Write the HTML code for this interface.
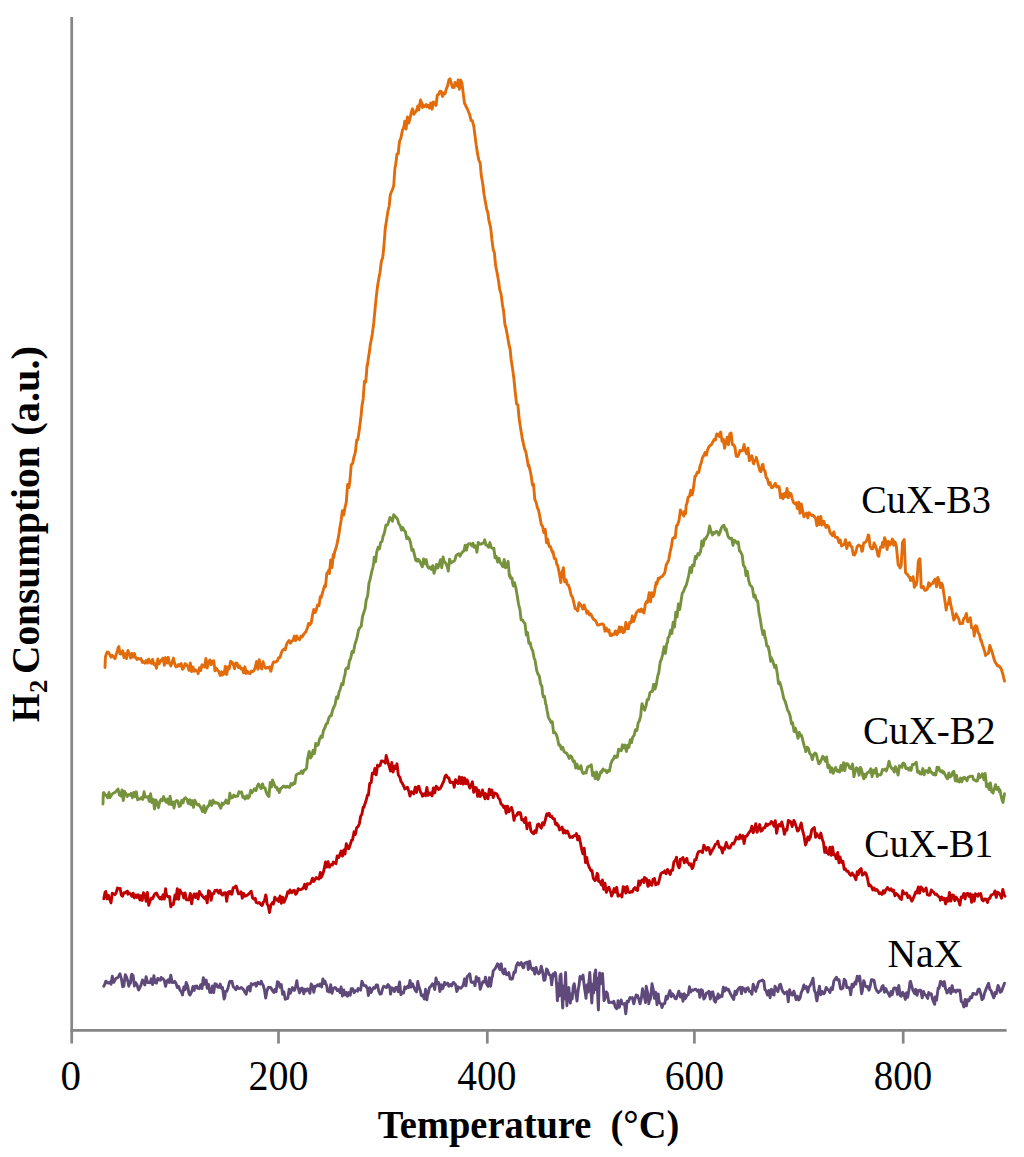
<!DOCTYPE html>
<html><head><meta charset="utf-8"><title>H2-TPR</title>
<style>
html,body{margin:0;padding:0;background:#fff;}
body{width:1024px;height:1157px;overflow:hidden;font-family:"Liberation Serif",serif;}
svg{display:block;}
text{font-family:"Liberation Serif",serif;fill:#000;}
</style></head><body>
<svg width="1024" height="1157" viewBox="0 0 1024 1157">
<rect width="1024" height="1157" fill="#fff"/>
<g stroke="#868686" stroke-width="2.7" fill="none">
<line x1="71.7" y1="17" x2="71.7" y2="1043.6"/>
<line x1="70.4" y1="1030.4" x2="1006.6" y2="1030.4"/>
<line x1="278.5" y1="1030.4" x2="278.5" y2="1043.6"/><line x1="487.3" y1="1030.4" x2="487.3" y2="1043.6"/><line x1="694.4" y1="1030.4" x2="694.4" y2="1043.6"/><line x1="903.2" y1="1030.4" x2="903.2" y2="1043.6"/>
</g>
<g font-size="42"><text x="70.7" y="1089.8" text-anchor="middle" textLength="20.5" lengthAdjust="spacingAndGlyphs">0</text><text x="278.5" y="1089.8" text-anchor="middle" textLength="60.0" lengthAdjust="spacingAndGlyphs">200</text><text x="486.8" y="1089.8" text-anchor="middle" textLength="59.0" lengthAdjust="spacingAndGlyphs">400</text><text x="694.4" y="1089.8" text-anchor="middle" textLength="59.5" lengthAdjust="spacingAndGlyphs">600</text><text x="903.0" y="1089.8" text-anchor="middle" textLength="58.3" lengthAdjust="spacingAndGlyphs">800</text></g>
<text x="377.75" y="1137.70" font-size="39.7" font-weight="bold" textLength="301.52" lengthAdjust="spacingAndGlyphs" style="white-space:pre">Temperature  (°C)</text>
<text transform="translate(38.80,722.18) rotate(-90)" font-size="40" font-weight="bold" textLength="28.58" lengthAdjust="spacingAndGlyphs" style="white-space:pre">H</text>
<text transform="translate(47.20,693.12) rotate(-90)" font-size="26" font-weight="bold" textLength="13.32" lengthAdjust="spacingAndGlyphs" style="white-space:pre">2</text>
<text transform="translate(38.80,674.00) rotate(-90)" font-size="40" font-weight="bold" textLength="227.59" lengthAdjust="spacingAndGlyphs" style="white-space:pre">Consumption</text>
<text transform="translate(38.80,435.75) rotate(-90)" font-size="40" font-weight="bold" textLength="89.80" lengthAdjust="spacingAndGlyphs" style="white-space:pre">(a.u.)</text>
<text x="861.36" y="512.70" font-size="39.6" textLength="129.48" lengthAdjust="spacingAndGlyphs" style="white-space:pre">CuX-B3</text>
<text x="862.98" y="743.70" font-size="39.6" textLength="132.48" lengthAdjust="spacingAndGlyphs" style="white-space:pre">CuX-B2</text>
<text x="864.37" y="856.80" font-size="39.6" textLength="128.98" lengthAdjust="spacingAndGlyphs" style="white-space:pre">CuX-B1</text>
<text x="887.45" y="966.80" font-size="39.3" textLength="74.91" lengthAdjust="spacingAndGlyphs" style="white-space:pre">NaX</text>
<polyline points="103.8,986.2 104.5,984.9 105.8,981.1 106.2,981.2 107.1,982.8 108.4,983.0 110.0,982.0 111.0,984.2 112.3,976.2 113.6,982.4 115.0,980.0 116.2,978.1 117.5,977.9 118.8,976.0 120.0,973.8 121.4,978.8 122.7,986.7 123.8,986.2 125.3,974.8 126.2,976.2 127.9,981.2 128.8,986.2 129.2,984.4 130.5,983.0 131.2,976.2 131.8,974.2 133.1,975.6 134.4,986.0 135.0,982.5 135.7,982.7 137.0,984.6 138.3,989.4 138.8,990.0 139.6,988.1 140.9,985.3 142.5,980.0 143.5,981.5 144.8,985.0 146.1,976.6 147.5,982.5 148.7,982.3 150.0,982.8 151.2,978.8 152.6,984.6 153.9,975.8 155.0,982.5 156.5,983.1 157.8,978.5 159.1,979.5 160.4,980.3 161.2,977.5 161.7,978.8 163.0,978.6 164.3,980.5 165.6,986.4 166.2,983.8 166.9,981.1 168.2,979.8 169.5,982.5 170.0,978.8 170.8,975.1 172.1,982.5 173.4,982.6 174.7,981.2 176.2,983.8 177.3,987.6 178.6,986.2 179.9,990.1 181.2,991.6 182.5,995.0 183.8,986.9 185.1,989.8 186.2,982.5 187.7,986.1 189.0,993.7 190.0,995.0 191.6,991.9 192.9,986.6 194.2,990.4 195.0,986.2 195.5,988.2 196.8,986.1 198.1,988.3 199.4,988.7 200.0,987.5 200.7,984.7 202.0,988.6 203.3,977.7 204.6,984.3 206.2,980.0 207.2,988.3 208.5,984.3 209.8,992.4 211.2,992.5 212.4,986.0 213.7,992.5 215.0,983.8 216.3,984.2 217.6,987.1 218.9,987.4 220.2,984.1 221.5,988.4 222.5,987.5 224.1,999.0 225.0,996.2 225.4,991.5 226.7,991.4 228.0,988.2 229.3,982.5 230.0,981.2 230.6,982.1 231.9,981.2 233.2,986.7 234.5,987.9 235.8,989.7 236.2,988.8 237.1,986.3 238.4,988.6 239.7,988.4 241.2,987.5 242.3,988.3 243.6,989.7 245.0,992.5 246.2,994.2 247.5,987.4 248.8,986.6 250.1,991.1 251.2,983.8 252.7,984.7 254.0,983.8 255.3,983.3 256.2,986.2 257.9,982.2 259.2,983.6 260.5,984.1 261.2,981.2 261.8,983.1 263.1,985.0 264.4,989.6 265.7,998.1 266.2,995.0 267.0,990.7 268.3,987.5 270.0,987.5 270.9,987.6 272.2,990.3 273.8,992.5 274.8,989.5 276.1,991.7 277.4,981.7 278.8,982.5 280.0,987.3 281.3,984.6 282.6,994.2 283.9,991.7 285.2,999.2 286.2,998.8 287.8,998.4 289.1,989.3 290.4,993.3 291.7,989.8 292.5,987.5 293.0,988.4 294.3,990.4 295.6,986.9 296.9,980.6 297.5,986.2 298.2,988.0 299.5,992.9 300.8,988.8 302.1,988.0 303.8,993.8 304.7,989.1 306.0,991.0 307.5,988.8 308.6,990.2 309.9,993.3 311.2,984.0 312.5,986.1 313.8,992.3 315.0,986.2 316.4,986.2 317.7,984.7 319.0,985.9 320.0,984.0 321.6,986.9 322.9,979.0 324.2,983.5 325.0,981.2 325.5,982.8 326.8,986.3 327.5,991.2 328.1,990.5 329.4,992.0 330.7,984.8 332.0,993.4 333.3,988.5 335.0,987.5 335.9,988.0 337.2,990.6 338.5,989.6 340.0,992.5 341.1,987.0 342.4,996.0 343.8,990.0 345.0,994.9 346.3,992.4 347.5,996.2 348.9,992.5 350.2,995.2 351.2,988.8 352.8,988.8 354.1,992.7 355.4,990.6 356.7,990.5 357.5,991.2 358.0,988.4 359.3,989.2 360.6,990.2 361.9,981.2 363.0,983.8 364.5,985.9 365.8,985.8 367.5,988.8 368.4,995.5 369.7,987.6 371.2,992.5 372.3,989.7 373.6,987.6 374.9,988.2 376.2,985.0 377.5,985.0 378.8,991.4 380.1,994.1 381.2,993.8 382.7,988.3 383.8,986.2 385.3,986.9 386.6,987.6 387.9,984.5 389.2,986.0 390.0,988.8 390.5,994.1 391.8,987.8 393.1,988.6 394.4,991.6 395.0,990.0 395.7,987.4 397.0,987.5 398.3,991.8 398.8,986.2 399.6,981.9 400.9,994.7 402.5,992.5 403.5,993.1 404.8,986.8 406.1,988.6 407.5,986.2 408.7,987.4 410.0,980.4 411.3,987.1 412.5,983.8 413.9,987.2 415.0,990.0 416.5,991.9 417.8,981.5 418.8,986.2 420.4,991.0 421.2,995.0 421.7,995.8 423.0,995.0 424.3,999.1 425.6,989.2 426.9,999.9 427.5,995.0 428.2,993.8 429.5,987.5 430.8,986.4 432.5,983.8 433.4,984.2 434.7,989.5 436.0,978.0 437.5,983.8 438.6,982.5 439.9,991.6 441.2,984.6 442.5,988.8 443.8,986.0 444.5,982.5 445.1,984.5 446.4,984.1 447.7,983.1 448.8,986.2 450.3,984.6 451.6,986.0 452.9,982.8 453.8,982.5 454.2,983.4 455.5,984.4 456.8,991.5 457.5,990.0 458.1,986.8 459.4,987.8 460.7,988.2 462.0,986.7 462.5,986.2 463.3,984.7 464.6,978.8 465.9,985.9 467.2,976.5 468.8,975.0 469.8,973.8 471.1,982.1 472.5,982.5 473.7,981.9 475.0,985.7 476.3,976.8 477.5,981.2 478.9,978.3 480.2,989.4 481.2,986.2 482.8,981.7 484.1,982.1 485.0,980.0 485.4,977.1 486.7,984.0 488.0,986.4 488.8,985.0 489.3,977.8 490.6,986.4 491.9,977.6 492.5,976.2 493.2,970.9 494.5,969.4 495.8,967.7 497.5,963.8 498.4,964.6 499.7,969.5 501.2,963.8 502.3,971.9 503.8,973.8 504.9,969.0 506.2,974.4 507.5,974.8 508.8,972.5 510.1,978.8 511.4,979.2 512.5,978.8 514.0,972.0 515.3,972.2 516.2,966.2 517.9,962.7 519.2,965.1 520.5,963.5 521.2,962.5 521.8,964.6 523.1,967.8 523.8,967.5 524.4,963.4 525.7,963.0 527.0,962.1 527.5,962.5 528.3,969.5 529.6,961.2 530.9,967.6 532.5,970.0 533.5,968.3 534.8,974.1 536.1,967.5 537.4,971.8 538.8,973.8 540.0,972.3 541.2,966.2 542.6,971.4 543.9,980.2 545.0,980.0 546.5,968.9 547.5,970.0 549.1,974.8 550.4,975.1 551.2,980.0 551.7,984.8 553.0,974.0 554.3,975.4 555.0,972.5 555.6,973.4 556.6,985.0 557.4,1000.8 558.3,984.0 559.2,996.0 560.0,976.0 561.0,974.0 561.8,993.0 562.7,1008.0 563.6,986.0 564.4,999.0 565.6,972.5 566.2,990.0 566.9,1005.7 567.3,998.6 567.8,990.0 568.8,987.6 569.5,997.0 570.3,1003.0 571.3,994.0 572.2,999.0 573.2,987.0 574.2,983.7 575.5,992.0 576.4,997.6 577.0,1001.0 577.7,994.1 578.5,988.0 579.0,985.6 580.0,976.4 581.5,979.0 583.0,975.0 584.5,988.0 585.5,994.4 586.0,998.3 587.0,985.0 588.0,992.0 589.8,972.5 590.8,989.0 591.8,1003.0 592.8,984.0 593.6,993.0 594.5,975.0 595.7,970.0 596.4,990.0 597.0,978.0 597.7,996.0 598.4,1010.0 599.0,988.0 599.6,973.0 600.3,984.0 601.0,975.0 601.8,983.0 602.5,973.4 603.3,986.0 604.0,1000.8 605.0,998.4 605.5,996.0 606.3,991.8 607.4,993.5 608.8,1002.5 610.2,1002.3 611.5,1002.2 612.8,1002.9 613.8,1001.2 615.4,1007.3 616.7,1008.7 617.5,1007.5 618.0,1000.6 619.3,1007.4 620.6,1002.4 621.2,1000.0 621.9,1003.7 623.2,1004.1 624.5,1003.5 625.8,1013.7 626.2,1010.0 627.1,1001.3 628.4,1001.8 630.0,997.5 631.0,998.1 632.3,997.6 633.8,1003.8 634.9,999.4 636.2,995.0 637.5,995.6 638.8,999.1 640.0,1003.8 641.4,997.9 642.5,988.8 644.0,994.9 645.5,1002.5 646.2,986.2 647.9,993.7 648.8,1003.8 649.2,1001.4 650.5,998.6 652.0,983.8 653.1,988.8 654.4,998.4 655.0,997.5 655.7,992.2 657.0,1004.7 658.3,993.9 658.8,1000.0 659.6,1002.7 660.9,1003.8 662.0,1007.5 663.5,1003.7 664.8,1003.5 666.2,996.2 667.4,998.9 668.7,994.3 670.0,990.5 671.3,996.7 672.5,993.8 673.9,995.9 675.2,998.5 676.2,998.8 677.8,994.2 678.8,991.2 680.4,997.0 681.7,994.1 683.0,1001.3 684.3,993.8 685.0,998.8 685.6,998.0 686.9,995.4 688.2,994.8 689.5,986.8 690.0,990.0 690.8,991.9 692.1,990.0 693.4,990.2 694.7,989.5 696.0,989.3 697.3,991.2 698.8,990.0 699.9,997.2 701.2,989.8 702.5,990.6 703.8,999.0 705.0,997.5 706.4,992.9 707.7,993.0 708.8,991.2 710.3,999.0 711.6,992.2 712.9,992.0 713.8,997.5 714.2,1000.5 715.5,1002.2 716.8,996.6 717.5,998.8 718.1,993.9 719.4,997.7 720.7,995.8 722.0,996.5 723.3,987.1 723.8,990.0 724.6,991.1 725.9,987.9 727.5,990.0 728.5,989.3 729.8,992.5 731.1,995.0 732.5,997.5 733.7,999.5 735.0,991.2 736.3,994.4 737.5,990.0 738.9,988.1 740.2,987.2 741.5,993.7 742.5,987.5 744.1,988.9 745.4,992.0 746.7,988.1 748.0,987.8 749.3,991.3 750.0,991.2 750.6,991.5 751.9,994.3 753.2,984.2 754.5,987.4 755.8,991.4 756.2,988.8 757.1,987.7 758.4,982.4 759.5,981.2 761.0,980.8 762.3,980.0 763.8,981.2 764.9,989.6 766.2,991.0 767.5,995.0 768.8,990.5 770.1,997.8 771.4,989.1 772.5,993.8 774.0,995.0 775.0,986.2 776.6,989.3 777.5,991.2 777.9,991.7 779.5,985.0 780.5,984.2 781.8,989.2 783.1,992.2 783.8,992.5 784.4,993.7 785.7,992.7 787.0,991.7 788.3,1001.7 788.8,996.2 789.6,989.6 790.9,994.2 792.2,995.2 793.8,991.2 794.8,994.4 796.1,999.7 797.4,996.2 798.8,1000.0 800.0,998.2 801.3,992.4 802.5,990.0 803.9,985.0 805.2,988.5 806.5,986.6 807.8,992.2 808.8,987.5 810.4,985.0 811.7,982.0 812.5,980.0 813.0,978.2 814.3,990.1 815.6,993.0 816.2,997.5 816.9,1000.9 818.2,993.1 819.5,986.1 820.0,990.0 820.8,994.8 822.1,991.4 823.8,993.8 824.7,992.6 826.2,987.5 827.3,989.4 828.6,989.8 830.0,992.5 831.2,987.8 832.5,989.5 833.8,981.2 835.1,979.1 836.4,977.2 837.5,980.0 839.0,979.8 840.3,987.9 840.9,989.0 841.6,988.8 842.9,988.0 844.2,979.3 845.6,980.9 846.8,987.5 848.1,987.1 849.4,988.2 850.3,991.4 850.7,994.8 852.0,984.1 853.3,986.9 855.0,982.0 855.9,984.1 857.2,976.3 858.5,980.8 859.7,976.2 861.1,989.5 861.6,993.7 862.4,990.6 863.7,980.7 864.4,982.0 865.0,985.2 866.3,986.8 867.6,986.5 869.0,990.2 870.2,986.2 871.5,979.6 872.6,979.7 874.1,980.4 875.4,987.6 876.7,990.5 878.4,992.6 879.3,991.6 880.6,990.7 881.9,986.9 883.1,985.5 884.5,992.3 885.8,988.6 887.1,991.6 888.4,993.7 889.7,996.3 890.2,996.0 891.0,991.4 892.3,994.5 893.6,988.4 894.8,987.9 896.2,988.1 897.5,994.4 898.8,985.4 900.1,995.4 901.4,996.2 901.9,993.7 902.7,992.2 904.0,994.2 905.3,999.4 906.6,992.6 907.7,997.3 909.2,988.6 910.0,982.0 910.5,981.4 911.8,986.3 913.1,990.8 914.8,993.7 915.7,989.3 917.0,995.3 918.3,990.4 919.6,990.2 920.6,990.2 922.2,997.9 923.5,991.5 924.8,994.6 926.1,995.4 927.7,998.4 928.7,992.5 930.0,994.3 931.2,993.7 932.6,999.4 933.9,1002.8 934.7,1004.3 935.2,996.9 936.5,1000.2 938.2,987.9 939.1,988.2 940.4,981.4 941.7,982.0 943.0,985.9 944.3,981.6 945.6,989.3 946.4,990.2 946.9,993.0 948.2,991.3 949.5,988.4 950.8,993.5 952.1,985.6 953.4,991.4 954.7,990.3 956.0,992.0 957.3,989.9 958.6,990.9 959.3,990.2 959.9,990.3 961.2,1001.2 962.8,1003.1 963.8,1006.9 965.1,999.5 966.4,1005.9 967.5,999.6 969.0,1000.8 970.3,996.9 971.6,997.9 972.9,993.5 974.5,993.7 975.5,994.4 976.8,994.2 978.1,989.5 979.2,989.0 980.7,993.5 982.0,999.6 983.3,998.5 984.6,992.9 985.9,989.4 987.2,986.2 988.6,983.2 989.8,989.4 991.1,990.5 992.1,993.7 993.7,997.8 994.5,996.0 995.0,992.4 996.3,993.8 998.0,985.5 998.9,987.2 1000.2,992.3 1001.5,991.4 1002.8,987.8 1004.5,983.2" fill="none" stroke="#5F497A" stroke-width="2.9" stroke-linejoin="round" stroke-linecap="round"/>
<polyline points="103.8,898.8 104.5,895.0 105.0,892.5 105.8,891.5 107.1,898.9 108.4,895.3 110.0,900.0 111.0,902.9 112.3,893.3 114.0,894.0 114.9,894.6 116.2,892.6 117.5,888.0 118.8,888.8 120.1,888.4 121.4,895.1 122.5,896.2 124.0,892.7 125.3,892.7 126.6,891.5 127.5,891.2 127.9,894.2 129.2,893.1 130.5,893.9 131.8,896.3 132.5,896.2 133.1,893.1 134.4,897.9 136.0,895.0 137.0,897.4 138.3,894.7 140.0,900.0 140.9,895.6 142.2,900.4 143.5,892.8 145.0,895.0 146.1,901.3 147.4,892.4 148.7,905.3 150.0,901.2 151.3,898.0 152.6,898.8 153.9,895.6 155.0,893.8 156.5,892.9 157.8,895.8 159.1,897.7 160.0,898.8 160.4,897.5 161.7,899.1 163.0,894.8 164.3,899.0 165.6,888.6 166.2,893.8 166.9,896.0 168.2,896.9 169.5,896.4 170.8,906.7 172.5,903.8 173.4,904.4 175.0,895.0 176.0,899.1 177.3,888.7 178.6,899.4 179.9,889.9 181.2,893.0 182.5,893.1 183.8,898.0 185.1,893.0 186.4,899.8 187.7,899.9 188.8,900.0 190.3,893.5 191.6,903.9 192.9,896.7 194.2,893.9 195.0,896.2 195.5,897.5 196.8,893.8 198.1,899.0 199.4,891.4 200.0,893.8 200.7,893.6 202.0,895.7 203.3,897.1 205.0,898.8 205.9,896.6 207.2,902.9 208.5,890.8 209.8,891.5 211.1,900.3 212.5,893.8 213.7,893.8 215.0,890.5 216.3,890.6 217.0,890.0 217.6,891.5 218.9,893.2 220.2,890.2 221.5,894.2 222.5,895.0 224.1,893.0 225.4,892.8 226.0,896.0 226.7,901.2 228.0,892.2 229.3,891.5 230.0,893.8 230.6,891.6 231.9,894.2 233.2,887.6 234.5,887.6 235.8,886.0 236.2,886.2 237.1,889.3 238.4,893.9 240.0,893.8 241.0,891.7 242.3,898.2 243.6,893.3 244.9,896.2 246.2,895.8 247.5,895.0 248.8,893.7 250.1,892.5 251.2,891.2 252.7,898.1 254.0,899.2 255.3,898.3 256.2,902.5 257.9,903.1 259.2,902.5 260.5,904.0 261.8,905.4 262.5,905.0 263.1,902.5 264.4,901.1 265.7,895.0 266.2,896.2 267.0,903.8 268.3,906.1 269.5,912.5 270.9,905.0 272.5,902.5 273.5,904.1 274.8,897.2 276.1,900.1 277.5,898.8 278.7,901.4 280.0,896.0 281.3,903.2 282.6,897.1 283.9,902.3 285.0,900.0 286.5,896.4 287.8,891.7 289.1,893.0 290.0,890.0 290.4,890.9 291.7,892.7 293.0,890.8 294.3,890.2 295.0,892.5 295.6,894.3 296.9,892.9 298.2,888.7 299.5,889.6 300.8,889.6 302.5,888.8 303.4,887.8 304.7,884.3 306.0,888.9 307.3,883.8 308.6,884.0 310.0,883.8 311.2,882.0 312.5,878.2 313.8,881.4 315.1,879.5 316.2,877.5 317.7,878.4 319.0,879.1 320.3,872.5 321.2,877.5 322.9,873.8 324.2,869.0 325.5,862.0 326.2,863.8 326.8,867.0 328.1,861.7 329.4,867.2 330.7,864.9 332.0,864.2 332.5,865.0 333.3,862.0 334.6,862.6 335.9,863.8 337.2,855.9 338.8,857.5 339.8,854.8 341.2,851.0 342.4,856.1 343.8,850.0 345.0,854.1 346.3,843.8 347.6,848.0 348.8,848.8 350.2,844.8 351.5,840.4 352.5,840.0 354.1,831.8 355.4,834.4 356.2,830.0 356.7,827.7 358.0,826.7 359.3,824.1 360.0,820.0 360.6,816.4 361.9,814.2 363.2,807.1 363.8,807.5 364.5,805.3 365.8,801.6 367.5,795.0 368.4,795.1 369.7,783.4 371.2,782.5 372.3,773.2 373.8,773.8 374.9,768.4 376.2,774.9 377.5,765.3 378.8,766.2 380.1,765.7 381.4,760.9 382.7,761.3 383.8,761.2 385.3,763.2 386.2,755.5 387.9,761.9 388.8,765.0 389.2,766.5 390.5,771.0 391.8,762.5 392.5,768.8 393.1,772.0 394.4,766.2 395.7,768.4 396.2,766.2 397.0,763.8 398.3,775.0 400.0,777.5 400.9,781.4 402.2,783.2 403.8,786.2 404.8,789.0 406.1,788.3 407.4,787.2 408.8,791.2 410.0,796.1 411.3,791.7 412.6,792.4 413.8,793.8 415.2,787.2 416.5,792.5 417.8,786.7 418.8,786.2 420.4,791.9 421.7,793.7 422.5,796.2 423.0,795.8 424.3,793.9 425.6,795.7 426.2,791.2 426.9,787.5 428.2,795.4 429.5,793.1 430.8,792.8 431.2,795.0 432.1,795.8 433.4,787.9 434.7,792.9 436.2,786.2 437.3,787.4 438.6,789.4 440.0,788.8 441.2,786.7 442.5,783.9 443.8,781.2 445.1,776.2 446.2,775.0 447.7,777.6 449.0,778.0 450.0,782.5 451.6,782.2 452.9,782.1 453.8,785.0 454.2,787.2 455.5,779.6 456.8,782.5 457.5,781.2 458.1,783.6 459.4,776.8 460.7,783.6 462.0,777.4 463.3,784.1 463.8,780.0 464.6,778.0 465.9,783.9 467.2,780.0 468.8,785.0 469.8,788.1 471.1,785.2 472.4,781.8 473.7,792.3 475.0,787.5 476.3,787.6 477.6,796.3 478.9,790.3 479.5,796.2 480.2,796.5 481.5,794.5 482.5,790.0 484.1,796.0 485.0,798.8 485.4,793.5 486.7,794.7 488.0,798.8 489.3,789.2 490.0,792.0 490.6,794.5 491.9,790.1 493.2,797.5 494.5,793.0 495.8,793.3 496.2,793.8 497.1,794.4 498.4,797.8 499.7,799.4 501.0,803.9 502.3,804.7 503.8,807.5 504.9,806.2 506.2,813.3 507.5,806.1 508.8,811.9 510.0,810.0 511.4,807.4 512.7,811.4 514.0,820.4 515.0,816.0 516.6,815.4 517.9,812.6 518.8,812.5 519.2,814.1 520.5,812.9 521.8,819.9 523.1,819.4 523.8,821.2 524.4,822.5 525.7,817.6 527.0,828.8 527.5,823.5 528.3,824.0 529.6,822.8 530.9,830.8 532.2,832.7 533.8,833.8 534.8,830.7 536.1,832.5 537.4,824.7 538.0,826.2 538.7,823.9 540.0,826.2 541.3,828.3 542.6,822.6 543.8,825.0 545.2,820.5 546.5,814.7 547.0,813.8 547.8,815.4 549.1,813.2 550.4,816.7 551.7,816.2 552.5,818.0 553.0,818.6 554.3,818.6 555.6,824.4 556.9,823.4 557.5,825.5 558.2,825.0 559.5,829.9 560.8,828.5 562.1,827.1 563.4,833.1 564.0,830.0 564.7,830.4 566.0,833.0 567.3,831.0 568.6,833.8 570.0,837.5 571.2,836.7 572.5,837.5 573.8,835.6 575.5,835.5 576.4,833.6 577.7,839.9 579.0,836.3 580.0,840.5 581.6,849.1 582.9,853.8 583.8,852.5 584.2,848.2 585.5,862.5 586.8,857.4 587.5,862.5 588.1,864.3 589.4,867.7 590.7,870.2 591.2,871.0 592.0,870.5 593.3,878.3 595.0,880.5 595.9,879.7 597.2,873.3 598.0,875.0 598.5,881.2 599.8,881.4 601.5,885.0 602.4,880.0 603.7,889.3 605.0,883.1 606.3,892.4 607.5,889.0 608.9,887.2 610.2,890.9 611.0,893.0 611.5,896.1 612.8,893.1 614.1,888.6 615.0,891.0 615.4,892.2 616.7,887.3 618.0,896.1 619.3,895.4 620.6,894.7 621.2,895.0 621.9,897.0 623.2,886.7 624.5,887.5 625.8,893.2 626.2,887.5 627.1,886.6 628.4,892.1 630.0,892.5 631.0,891.4 632.3,892.1 633.6,889.0 635.0,887.5 636.2,889.8 637.5,890.6 638.8,881.0 640.0,885.0 641.4,880.7 642.7,879.7 644.0,882.4 644.5,877.5 645.3,878.3 646.6,879.1 647.9,886.3 648.8,885.5 649.2,880.5 650.5,884.4 651.8,885.3 653.1,879.1 653.8,880.0 654.4,878.4 655.7,884.9 657.0,883.1 657.5,883.8 658.3,884.0 659.6,878.6 660.9,873.7 662.5,872.5 663.5,872.5 664.8,870.9 666.1,873.8 667.5,869.5 668.7,871.7 670.2,874.5 671.3,870.3 672.6,870.3 673.9,861.9 675.5,860.0 676.5,857.2 677.8,864.8 679.1,867.8 680.0,865.0 680.4,859.1 681.7,859.4 683.0,857.5 684.3,862.8 685.6,860.4 686.9,858.4 687.5,862.5 688.2,862.8 689.5,865.0 690.8,863.8 692.1,868.5 693.0,867.5 693.4,865.5 694.7,859.7 696.0,859.8 697.5,853.8 698.6,851.7 699.9,851.4 701.2,851.2 702.5,852.6 703.8,845.2 705.5,848.0 706.4,850.2 707.7,847.4 709.0,848.1 710.3,854.2 712.0,850.5 712.9,849.4 714.2,846.9 715.5,844.2 716.8,843.9 717.8,841.2 719.4,847.4 720.7,847.3 722.0,850.7 722.5,853.0 723.3,848.0 724.6,849.2 726.2,842.5 727.2,845.5 728.5,848.1 730.0,848.0 731.1,845.5 732.4,843.3 733.7,843.9 735.0,841.0 735.5,840.0 736.3,836.9 737.6,838.3 738.9,839.0 740.0,835.0 741.5,838.3 742.8,835.5 744.1,843.5 745.0,838.8 745.4,836.5 746.7,836.1 748.0,834.1 749.3,832.1 750.0,831.2 750.6,831.0 751.9,826.2 753.2,832.8 754.5,829.3 755.8,823.7 756.2,827.5 757.1,832.2 758.4,828.2 759.7,824.5 761.0,831.2 762.5,830.0 763.6,827.6 764.9,827.7 766.2,823.8 767.5,825.4 768.8,824.1 770.1,824.1 771.4,821.5 772.5,822.5 774.0,826.3 775.3,820.6 776.6,833.3 777.5,828.8 777.9,825.8 779.2,824.4 780.5,826.1 781.2,823.8 781.8,822.0 783.1,827.2 784.4,834.3 785.0,832.5 785.7,829.5 787.0,830.1 788.3,820.4 788.8,822.5 789.6,821.1 790.9,822.0 792.2,826.5 793.8,820.5 794.8,822.2 796.1,826.2 797.5,831.0 798.7,830.1 800.0,826.8 801.2,823.0 802.6,830.4 803.9,835.3 805.5,845.0 806.5,842.4 807.8,837.1 809.1,839.9 810.0,836.0 810.4,837.6 811.7,830.0 812.8,828.8 814.3,827.5 815.6,837.2 816.9,833.7 817.5,835.5 818.2,835.7 819.5,838.1 820.8,833.1 822.5,840.0 823.4,842.1 824.7,852.4 826.0,847.3 826.5,852.5 827.3,851.4 828.6,854.3 829.9,847.2 831.2,855.3 832.0,850.0 832.5,847.0 833.8,854.9 835.1,854.6 836.2,858.8 837.7,852.5 839.0,862.9 840.0,857.0 841.6,862.4 842.9,861.2 844.2,869.3 845.0,868.5 845.5,869.0 846.8,871.3 848.1,871.3 849.4,873.8 850.7,875.4 851.2,875.0 852.0,872.9 853.3,874.6 855.0,877.5 855.9,879.7 857.2,871.7 858.5,874.5 859.5,870.0 861.1,868.5 862.4,875.1 863.7,874.3 865.0,872.5 866.3,874.2 867.6,879.0 868.9,885.8 870.0,885.0 871.5,886.8 872.8,890.0 874.1,887.9 875.0,890.0 875.4,890.4 876.7,889.5 878.0,891.2 879.3,893.7 880.6,892.8 881.9,894.4 882.5,893.8 883.2,890.7 884.5,892.9 885.8,889.9 887.5,887.5 888.4,889.2 889.7,890.2 891.0,888.7 892.5,891.2 893.6,890.0 894.9,895.7 896.2,893.4 897.5,894.8 898.8,896.2 900.1,898.4 901.4,899.5 902.7,890.8 904.0,893.5 905.0,893.8 906.6,893.1 907.9,897.5 909.2,895.7 910.5,898.2 911.8,901.1 912.5,900.0 913.1,898.8 914.4,895.5 915.7,892.1 917.0,893.0 917.5,890.0 918.3,887.0 919.6,893.1 920.9,887.0 922.5,888.8 923.5,891.3 924.8,890.4 926.1,888.0 927.4,894.7 928.7,895.2 930.0,895.0 931.3,890.0 932.5,891.2 933.9,892.5 935.2,894.5 936.5,894.0 937.8,895.8 939.1,897.0 940.0,897.5 940.4,900.2 941.7,897.0 943.0,899.6 944.3,898.3 945.6,904.0 946.2,901.2 946.9,898.1 948.2,901.2 949.5,892.4 950.8,901.1 952.5,895.0 953.4,895.1 954.7,900.8 956.0,897.0 957.3,898.8 958.8,901.2 959.9,905.0 961.2,896.9 962.5,897.5 963.8,893.4 965.1,899.0 966.2,893.8 967.7,893.3 969.0,896.3 970.3,893.8 971.6,902.4 972.5,898.8 972.9,894.9 974.2,901.1 975.5,893.8 976.8,894.8 978.1,896.2 978.8,893.8 979.4,894.4 980.7,893.5 982.0,899.8 983.3,900.9 983.8,900.0 984.6,898.9 985.9,899.1 987.5,902.5 988.5,898.9 989.8,898.4 991.2,895.0 992.4,894.5 993.7,894.0 995.0,890.9 996.3,897.4 997.6,892.2 998.8,893.0 1000.2,894.8 1001.5,898.2 1002.8,889.5 1004.1,894.8 1005.0,896.2" fill="none" stroke="#C00000" stroke-width="2.9" stroke-linejoin="round" stroke-linecap="round"/>
<polyline points="103.0,804.0 103.3,793.0 103.8,792.5 105.0,795.0 106.4,795.3 107.7,797.8 109.0,792.5 110.0,797.5 111.6,794.9 112.9,793.4 114.0,793.0 115.5,792.0 116.8,790.6 118.0,789.0 119.4,794.8 121.0,796.0 122.0,789.9 123.3,800.5 124.6,791.2 125.0,794.0 125.9,793.3 127.2,796.4 128.5,794.7 130.0,795.0 131.1,793.4 132.4,797.7 133.7,792.5 135.0,796.5 136.3,791.8 137.6,799.7 138.9,798.9 140.0,799.0 141.5,797.5 142.8,799.4 144.1,791.8 145.0,797.0 146.7,797.0 148.0,796.6 149.3,801.4 150.0,797.5 150.6,793.7 151.9,802.6 153.2,799.3 154.0,805.0 154.5,809.0 155.8,799.9 157.1,802.6 158.4,807.7 160.0,801.0 161.0,799.4 162.3,800.7 163.6,796.6 164.9,800.1 166.2,802.2 167.5,799.0 168.8,804.2 170.1,796.2 171.4,804.6 173.0,802.0 174.0,808.0 175.3,801.8 176.6,800.5 177.9,801.0 179.2,806.5 180.0,805.0 180.5,805.6 181.8,800.3 183.1,802.8 184.0,799.0 185.7,797.8 187.0,799.6 188.3,803.6 189.6,799.7 190.0,802.0 190.9,804.7 192.2,800.6 193.5,807.4 194.8,800.3 196.1,802.7 197.5,805.0 198.7,804.4 200.0,806.3 201.0,808.0 202.6,811.6 203.9,805.6 205.0,812.5 206.5,809.0 208.0,806.0 209.1,805.3 210.0,801.0 211.7,805.4 213.0,800.2 214.3,803.1 215.6,802.2 216.0,803.0 216.9,803.0 218.2,803.1 219.5,805.9 220.8,808.2 222.1,803.1 222.5,805.0 223.4,804.1 224.7,802.8 226.0,800.0 227.3,803.2 228.6,803.3 229.9,793.3 231.0,798.0 232.5,797.7 233.8,795.0 235.1,796.6 236.4,796.2 237.7,796.0 239.0,791.7 240.0,792.5 241.6,792.1 242.9,797.4 244.2,796.7 245.0,799.0 245.5,798.8 246.8,795.7 248.1,798.2 249.4,796.4 250.7,790.3 252.0,792.8 253.0,791.0 254.6,788.7 255.9,790.8 257.2,786.7 258.5,784.0 259.8,786.0 261.1,788.5 262.5,784.0 263.7,787.8 265.0,787.9 266.3,792.3 267.5,795.0 268.9,796.5 270.2,782.4 271.5,787.0 272.5,780.0 274.1,783.9 275.4,787.3 276.7,787.2 277.5,790.0 278.0,789.1 279.3,792.5 280.6,788.5 281.9,787.8 283.2,786.3 284.5,786.1 285.0,787.0 285.8,787.3 287.1,786.2 288.4,787.0 289.7,787.4 291.0,783.6 292.5,785.0 293.6,782.8 294.9,783.6 296.2,774.9 297.5,774.0 298.8,773.5 300.1,773.4 301.4,771.1 302.7,773.5 304.0,770.1 305.0,770.0 306.6,768.0 307.5,759.0 309.2,751.4 310.5,758.1 311.8,755.9 313.1,750.3 314.4,753.6 315.0,750.0 315.7,743.4 317.0,745.4 318.3,744.7 319.6,738.7 320.0,739.0 320.9,736.1 322.2,737.2 323.5,730.5 325.0,727.5 326.1,724.1 327.4,723.3 328.7,718.3 330.0,716.0 331.3,715.6 332.6,710.2 333.9,706.9 335.0,705.0 336.5,696.9 337.8,698.4 339.1,691.9 340.0,690.0 341.7,683.6 343.0,684.6 344.3,676.6 345.0,675.0 345.6,669.6 346.9,667.7 348.2,668.5 349.5,660.1 350.0,660.0 350.8,657.7 352.1,651.4 353.4,652.4 355.0,644.0 356.0,641.3 357.3,636.4 358.6,629.7 360.0,627.5 361.2,626.3 362.5,616.7 363.8,612.5 365.1,608.8 366.2,600.0 367.7,595.7 369.0,583.0 370.0,580.0 371.6,572.4 372.9,567.3 373.8,562.5 374.2,557.1 375.5,561.9 376.8,551.6 378.1,547.3 378.8,547.5 379.4,549.0 380.7,542.3 382.0,541.5 383.3,535.3 383.8,535.0 384.6,532.2 385.9,525.2 387.5,525.0 388.5,522.1 390.0,517.5 391.1,518.7 392.5,521.2 393.7,514.8 395.0,516.2 396.3,517.6 397.6,519.3 398.8,523.8 400.2,525.6 401.5,530.1 402.8,527.6 403.8,530.0 405.4,531.7 406.7,538.6 408.0,537.1 408.8,538.8 409.3,538.8 410.6,542.9 411.9,550.4 412.5,550.0 413.2,549.5 414.5,555.1 415.8,560.5 417.1,559.2 417.5,561.2 418.4,559.5 419.7,561.0 421.0,564.1 422.3,566.8 423.6,559.0 425.0,563.8 426.2,559.7 427.5,566.4 428.8,568.1 430.0,567.0 431.4,569.4 432.7,565.7 434.0,573.3 435.0,570.0 436.6,564.5 437.9,568.0 439.0,565.0 440.5,559.7 441.8,567.7 443.1,557.0 443.8,560.0 444.4,561.8 445.7,563.1 447.0,566.1 447.5,567.5 448.3,571.2 449.6,559.2 451.0,563.0 452.2,561.8 453.5,561.5 455.0,560.0 456.1,555.4 457.4,554.6 458.8,553.8 460.0,556.2 461.3,553.6 462.6,551.8 463.8,551.2 465.2,545.1 466.5,550.2 467.8,544.8 468.8,543.8 470.4,543.6 472.0,546.0 473.0,543.3 474.3,547.4 475.6,545.8 476.2,547.5 476.9,552.4 478.2,542.4 479.5,543.5 480.0,544.0 480.8,544.2 482.1,543.4 483.8,543.0 484.7,539.8 486.0,545.1 487.0,545.0 488.6,547.3 489.9,542.6 491.2,547.5 492.5,548.2 493.8,548.2 495.1,557.8 496.2,556.2 497.7,562.2 499.0,558.3 500.3,562.6 501.2,563.8 502.9,566.8 504.2,559.4 505.5,567.8 506.8,566.2 507.5,563.8 508.1,561.3 509.4,576.2 510.0,575.0 510.7,578.4 512.0,577.9 512.5,582.5 513.3,586.0 514.6,582.7 515.0,585.0 515.9,588.2 517.5,597.5 518.5,603.8 520.0,610.0 521.1,619.9 522.5,620.0 523.7,622.1 525.0,623.7 526.3,635.1 527.5,632.5 528.9,643.3 530.2,642.8 531.2,647.5 532.8,651.1 534.1,658.1 535.0,660.0 536.7,670.5 538.0,674.3 538.8,675.0 539.3,676.2 540.6,684.1 541.9,686.2 542.5,692.5 543.2,696.7 544.5,696.4 545.8,704.4 546.2,705.0 547.1,710.7 548.4,717.4 550.0,720.0 551.0,722.4 552.3,721.7 553.6,732.8 555.0,732.5 556.2,734.2 557.5,738.2 558.8,745.0 560.0,745.0 561.4,749.2 562.7,747.3 564.0,751.4 565.0,752.5 566.6,753.1 567.9,755.5 569.2,758.4 570.0,757.5 570.5,755.8 571.8,757.1 573.1,761.4 574.4,760.9 575.7,768.0 576.2,765.0 577.0,764.1 578.3,768.6 579.6,768.7 580.9,765.7 582.2,772.0 583.5,773.5 585.0,772.5 586.1,773.0 587.4,767.4 588.7,766.3 590.0,766.2 591.3,764.8 592.6,775.5 593.8,772.5 595.2,778.7 596.5,771.9 598.0,779.5 599.1,777.2 600.4,772.4 601.2,771.2 601.7,772.4 603.0,768.9 604.3,770.4 605.6,770.3 606.9,772.7 608.2,770.6 608.8,771.2 609.5,771.1 610.8,763.9 612.1,760.5 612.5,760.0 613.4,759.1 614.7,755.9 616.2,757.5 617.3,757.0 618.6,749.2 620.0,750.0 621.2,750.7 622.5,744.8 623.8,747.9 625.0,745.0 626.4,751.5 627.7,745.2 628.8,747.5 630.3,739.8 631.6,742.6 632.5,737.5 634.2,735.2 635.5,729.6 636.8,730.4 637.5,727.5 638.1,722.9 639.4,720.8 640.7,715.9 641.2,710.0 642.0,703.7 643.3,707.7 644.6,710.2 646.2,705.0 647.2,699.6 648.5,699.5 650.0,692.5 651.1,691.6 652.4,691.5 653.7,684.1 655.0,689.1 656.2,685.0 657.6,676.5 658.8,672.5 660.2,662.1 661.5,659.0 662.5,655.0 664.1,646.7 665.4,653.4 666.7,643.6 667.5,642.5 668.0,638.0 669.3,636.3 670.6,630.2 671.9,633.4 672.5,627.5 673.2,622.1 674.5,627.2 675.8,612.1 677.1,617.1 677.5,612.5 678.4,604.0 679.7,609.6 681.2,600.0 682.3,593.1 683.6,591.3 685.0,587.5 686.2,585.3 687.5,580.4 688.8,575.0 690.1,567.5 691.4,572.5 692.5,565.0 694.0,565.6 695.3,556.4 696.2,558.8 697.9,553.6 699.2,554.8 700.5,551.6 701.2,547.5 701.8,541.0 703.1,545.9 704.4,538.9 705.7,539.1 706.2,537.5 707.0,536.5 708.3,533.5 709.6,525.9 710.0,527.5 710.9,531.1 712.5,535.0 713.5,532.5 714.8,533.3 716.2,531.2 717.4,531.8 718.8,535.0 720.0,532.5 721.3,528.1 722.5,526.2 723.9,525.2 725.2,530.0 726.2,528.8 727.8,535.6 728.8,537.5 730.4,538.8 731.7,538.3 733.0,545.4 733.8,541.2 734.3,540.2 735.6,541.3 736.9,543.2 737.5,542.5 738.2,541.9 739.5,551.0 740.0,551.0 740.8,552.3 742.1,554.8 743.4,565.1 745.0,567.5 746.0,575.6 747.3,571.2 748.6,580.1 750.0,585.0 751.2,586.0 752.5,588.1 753.8,597.1 755.1,595.1 756.2,600.0 757.7,601.2 759.0,613.1 760.0,617.5 761.6,627.7 762.9,634.6 764.2,630.8 765.0,638.0 765.5,637.7 766.8,646.0 768.1,646.4 769.4,652.1 770.7,661.2 771.2,657.5 772.0,659.2 773.3,662.8 774.6,667.4 775.9,665.3 777.5,675.0 778.5,683.7 779.8,682.4 781.1,686.9 782.5,692.5 783.7,698.4 785.0,701.0 786.3,705.2 787.5,710.0 788.9,712.1 790.2,716.3 791.5,723.7 792.5,722.5 794.1,731.6 795.4,728.0 796.7,732.9 797.5,736.2 798.0,738.4 799.3,732.5 800.6,735.8 801.2,735.0 801.9,736.7 803.2,742.1 804.5,747.2 805.0,747.5 805.8,751.6 807.1,747.2 808.4,748.3 809.7,753.4 811.2,755.0 812.3,759.7 813.6,754.9 814.9,753.1 816.2,753.8 817.5,759.1 818.8,763.8 820.1,762.7 821.4,759.7 822.7,756.3 823.8,757.5 825.3,761.3 826.6,757.0 827.9,767.5 829.2,765.3 830.0,768.8 830.5,772.1 831.8,767.8 833.1,773.4 834.4,769.9 835.7,767.5 837.0,770.9 837.5,771.2 838.3,770.3 839.6,772.0 840.9,765.5 842.2,770.3 843.0,767.0 843.5,762.8 844.8,770.6 846.1,763.8 847.5,763.8 848.7,765.6 850.0,768.4 851.3,768.5 852.6,764.1 853.9,776.8 855.0,772.5 856.5,767.8 857.8,768.8 859.1,775.2 860.4,767.5 861.2,768.8 861.7,770.4 863.0,776.6 863.8,778.8 864.3,774.2 865.6,777.1 866.9,773.2 868.2,772.2 869.5,772.2 870.0,770.0 870.8,768.8 872.1,776.7 873.4,770.1 875.0,773.0 876.0,768.3 877.3,776.6 878.6,774.5 880.0,775.0 881.2,774.2 882.5,769.5 883.8,770.0 885.0,769.0 886.4,770.9 887.7,767.1 889.0,761.3 890.0,765.0 891.6,768.5 892.9,768.5 894.2,772.1 895.5,766.6 896.8,770.6 897.5,772.5 898.1,775.1 899.4,765.7 900.7,766.5 902.0,767.4 902.5,763.8 903.3,763.1 904.6,763.9 905.9,768.6 907.2,768.0 908.8,770.0 909.8,767.8 911.1,770.3 912.4,764.5 913.7,764.5 915.0,763.8 916.3,762.3 917.6,772.3 918.9,771.3 920.0,773.8 921.5,774.0 922.8,768.6 924.1,774.8 925.0,771.0 926.7,770.8 928.0,772.6 929.3,768.1 930.0,770.0 930.6,772.2 931.9,772.5 933.2,774.6 934.5,773.4 935.0,775.0 935.8,774.9 937.1,767.3 938.8,767.5 939.7,770.8 941.0,771.7 942.3,770.8 943.0,773.0 943.6,771.8 944.9,774.1 946.2,777.0 947.5,778.8 948.8,773.0 950.1,777.0 951.4,775.9 952.7,772.3 953.8,771.2 955.3,780.9 956.6,775.4 957.5,781.2 959.2,781.9 960.5,778.1 961.8,781.9 963.1,777.8 964.4,777.3 965.0,778.8 965.7,778.2 967.0,780.7 968.3,777.2 969.6,776.7 970.9,776.1 972.5,776.2 973.5,779.7 974.8,780.1 976.2,781.2 977.4,780.9 978.7,773.9 980.0,777.8 981.3,775.9 982.5,773.8 983.9,779.7 985.2,773.5 986.5,786.6 987.5,783.8 989.1,789.5 990.4,782.9 991.7,791.9 992.5,791.2 993.0,793.1 994.3,788.8 995.6,784.7 996.0,788.0 996.9,789.4 998.2,787.3 999.5,792.0 1000.0,790.0 1000.8,794.6 1002.1,800.3 1003.0,802.5 1004.5,793.8" fill="none" stroke="#76923C" stroke-width="2.9" stroke-linejoin="round" stroke-linecap="round"/>
<polyline points="105.0,667.5 105.4,657.0 107.1,652.1 107.5,652.5 108.4,652.2 109.7,654.4 111.0,657.0 112.3,655.3 113.6,657.0 115.0,658.7 116.2,654.4 117.5,650.8 118.0,648.0 118.8,646.6 120.1,653.9 121.0,654.0 122.7,650.8 124.0,657.7 125.0,653.7 126.6,658.5 127.9,650.5 129.2,654.1 130.0,655.0 130.5,658.0 131.8,653.5 133.1,657.2 134.4,653.4 135.0,656.0 135.7,657.7 137.0,659.5 138.3,658.4 139.6,659.0 140.9,658.6 142.5,662.5 143.5,661.6 144.8,663.2 146.1,660.6 147.4,663.1 148.0,661.0 148.7,659.1 150.0,662.3 151.3,663.3 152.6,659.3 153.9,664.4 155.0,663.7 156.5,668.3 157.8,658.9 159.1,663.9 160.0,662.0 161.7,659.6 163.0,658.1 164.3,665.2 165.0,660.0 165.6,657.6 166.9,663.1 168.2,657.3 169.5,663.4 170.8,665.9 172.0,663.0 173.4,658.1 174.7,663.6 176.0,666.9 177.3,666.6 178.6,664.5 180.0,666.0 181.2,663.5 182.5,669.4 183.8,667.7 185.1,663.7 186.4,664.6 188.0,667.0 189.0,670.4 190.3,662.9 191.6,671.5 192.9,667.1 194.2,671.2 195.5,669.9 196.8,671.2 197.5,671.0 198.1,673.7 199.4,667.7 200.7,670.6 202.0,664.8 203.3,665.8 204.0,666.0 204.6,667.1 205.9,658.5 207.2,668.0 208.5,661.9 210.0,660.0 211.1,664.7 212.4,661.1 213.7,660.8 215.0,670.7 216.0,668.0 217.6,670.4 218.9,671.7 220.2,675.4 221.5,671.8 222.5,675.0 224.1,673.6 225.4,666.3 226.7,674.5 228.0,667.0 229.3,668.6 230.6,661.2 231.9,663.2 232.5,662.5 233.2,664.0 234.5,668.7 235.8,663.0 237.1,663.4 238.4,667.5 239.7,666.1 241.0,669.0 242.3,668.5 243.6,672.9 244.9,666.8 246.2,673.5 247.5,671.2 248.8,673.1 250.0,673.7 251.4,671.1 252.7,671.6 254.0,670.6 255.0,668.0 256.6,661.6 257.9,669.2 259.2,659.7 260.0,663.7 260.5,667.1 261.8,669.0 263.1,661.8 264.4,666.2 265.0,667.0 265.7,668.3 267.0,667.4 268.3,668.1 269.6,666.9 270.0,668.7 270.9,671.2 272.2,665.6 273.5,661.9 275.0,662.0 276.1,661.8 277.4,660.8 278.7,657.6 280.0,657.5 281.3,652.9 282.6,650.3 284.0,649.0 285.2,649.9 286.5,644.6 287.5,642.5 289.1,640.5 290.4,643.2 292.0,641.0 293.0,640.4 294.3,636.1 295.6,640.7 296.9,636.0 297.5,638.7 298.2,638.5 299.5,639.7 301.0,636.0 302.1,637.0 303.4,634.8 305.0,632.5 306.0,631.8 307.5,627.5 308.6,623.4 309.9,624.7 311.2,623.0 312.5,615.0 313.8,609.4 315.1,612.5 316.4,609.8 317.5,605.0 319.0,605.6 320.3,596.7 321.2,597.5 322.9,591.4 324.2,586.9 325.0,585.0 325.5,586.7 326.8,573.3 328.1,572.0 328.8,570.0 329.4,573.6 330.7,559.9 332.0,567.5 333.3,554.5 333.8,557.5 334.6,552.1 336.2,547.5 337.2,543.1 338.8,535.0 339.8,528.0 341.2,520.0 342.4,510.6 343.7,515.0 345.0,507.5 346.3,502.2 347.0,492.5 347.6,484.5 348.9,487.6 350.0,480.0 351.2,465.0 352.8,463.0 353.8,457.5 355.4,452.2 356.7,439.9 357.5,440.0 358.0,438.5 359.3,430.1 360.6,419.2 361.2,415.0 361.9,406.3 363.2,398.7 363.8,390.0 364.5,381.1 365.8,382.0 367.1,364.8 367.5,365.0 368.4,358.0 369.7,349.8 370.5,343.0 371.0,341.3 372.3,333.9 373.8,322.5 374.9,310.7 376.2,297.5 377.5,286.4 378.8,278.7 380.0,272.5 381.4,261.0 382.7,257.7 383.8,247.5 385.3,228.0 386.2,222.5 387.9,211.4 389.2,206.0 390.0,197.5 390.5,194.0 391.8,191.2 393.1,187.9 393.8,185.0 394.4,175.6 395.0,167.5 395.7,164.7 397.0,154.0 398.3,153.6 398.8,147.5 399.6,141.0 400.9,138.1 402.5,130.0 403.5,128.1 404.2,125.5 404.8,121.1 406.1,129.0 407.4,116.9 408.7,123.1 410.0,118.8 411.3,112.3 412.5,108.8 413.9,114.3 415.0,112.5 416.5,110.8 417.8,106.0 418.8,110.0 420.5,100.0 421.7,102.7 422.5,107.5 423.0,104.8 424.3,106.5 425.6,105.6 426.2,104.5 426.9,106.9 428.2,105.3 429.5,108.0 430.0,107.0 430.8,102.9 432.1,109.2 433.4,101.9 435.0,103.8 436.0,105.5 437.3,95.0 438.6,94.4 440.0,91.2 441.2,91.4 442.5,96.5 443.8,93.1 445.0,93.8 446.4,88.7 447.5,86.2 449.0,79.7 450.0,78.8 451.6,84.3 452.5,87.5 454.2,87.4 455.0,82.5 455.5,83.9 456.8,84.7 457.5,86.2 458.1,79.9 459.4,89.3 460.7,80.1 461.2,81.2 462.0,83.4 463.3,94.2 464.6,103.7 465.0,103.8 465.9,106.2 467.2,108.5 468.8,112.5 469.8,115.1 471.1,120.6 472.4,120.8 473.8,126.2 475.0,135.8 476.2,145.0 477.6,153.9 478.8,160.0 480.2,163.0 481.2,175.0 482.8,184.1 484.1,194.7 485.0,200.0 486.7,209.1 488.0,213.3 488.8,220.0 489.3,221.8 490.6,227.3 491.2,232.5 491.9,239.5 493.2,249.4 494.5,253.3 495.0,260.0 495.8,266.6 497.1,272.7 498.8,282.5 499.7,289.6 501.0,293.6 502.5,305.0 503.6,311.0 504.9,324.3 506.2,329.0 507.5,336.2 509.0,345.0 510.1,349.0 511.2,360.0 512.7,369.6 514.0,379.5 515.0,390.0 516.6,404.0 517.9,404.7 518.8,415.0 519.2,418.7 520.5,427.7 521.8,435.6 522.5,440.0 523.1,442.0 524.4,448.3 525.0,450.0 525.7,451.2 527.0,458.3 528.3,466.0 528.8,465.0 529.6,468.4 530.9,474.2 532.5,485.0 533.5,484.0 534.8,499.5 536.2,502.5 537.4,507.8 538.7,510.7 540.0,517.5 541.3,524.6 542.6,526.3 543.8,532.5 545.2,529.3 546.5,542.7 547.5,538.8 549.1,546.5 550.4,546.5 551.7,550.4 552.5,552.5 553.0,551.5 554.3,558.6 555.6,558.7 556.9,564.5 557.5,565.0 558.2,568.0 559.5,574.1 560.8,582.5 562.1,571.8 562.5,571.2 563.4,567.7 564.7,581.9 566.2,580.0 567.3,584.8 568.6,585.4 570.0,590.0 571.2,595.4 572.5,597.1 573.8,602.5 575.1,608.5 576.2,608.8 577.7,610.9 579.0,602.8 580.3,604.4 581.2,605.5 582.9,609.0 584.2,605.1 585.5,609.4 586.2,610.0 586.8,613.2 588.1,611.4 589.4,614.7 590.0,615.0 590.7,613.9 592.0,616.4 593.3,619.1 594.6,619.9 595.0,620.0 595.9,621.3 597.5,625.0 598.5,625.1 599.8,624.6 601.1,624.1 602.5,623.8 603.7,624.8 605.0,631.2 606.3,628.0 607.5,631.2 608.9,629.9 610.2,635.5 611.5,634.1 612.0,635.5 612.8,634.3 614.1,634.2 615.4,630.9 616.7,634.8 617.5,631.2 618.0,633.4 619.3,627.0 620.6,631.7 621.9,627.3 623.2,632.8 624.5,631.6 625.0,628.8 625.8,622.4 627.1,628.5 628.4,628.8 629.7,622.2 631.2,622.5 632.3,616.0 633.6,621.5 634.9,617.8 636.2,613.0 637.5,611.3 638.8,609.9 640.1,611.6 641.4,609.0 642.5,611.2 644.0,613.0 645.3,604.1 646.6,601.5 647.5,602.5 649.2,592.7 650.0,596.2 650.5,601.7 651.8,592.6 653.1,596.5 653.8,595.0 654.4,592.6 655.7,584.6 656.2,582.5 657.0,584.0 658.3,578.2 659.6,578.5 660.9,577.1 662.5,576.2 663.5,574.5 664.8,572.8 666.2,565.0 667.4,562.6 668.7,560.1 670.0,552.5 671.3,547.1 672.6,538.5 673.8,537.5 675.2,537.8 676.5,525.5 677.5,525.0 679.1,520.1 680.4,509.9 681.2,511.2 681.7,513.9 683.0,513.5 683.8,516.2 684.3,511.8 685.6,513.6 686.2,505.0 686.9,503.7 688.2,497.1 689.5,496.4 690.0,493.8 690.8,490.3 692.1,494.8 693.0,491.2 695.0,476.2 696.0,475.7 697.3,472.1 698.8,472.5 699.9,466.5 701.2,463.0 702.5,457.5 703.8,455.6 705.1,452.6 706.4,455.1 707.5,450.0 709.0,446.6 710.3,445.4 711.6,444.4 712.5,442.5 714.2,439.4 715.5,440.1 716.2,436.2 716.8,433.9 718.1,435.2 719.4,436.6 720.0,433.0 720.7,432.1 722.0,441.4 723.3,439.2 724.6,448.3 725.0,446.2 725.9,442.6 727.2,437.2 728.5,444.7 729.8,433.7 730.5,435.0 731.1,433.0 732.4,444.7 733.8,445.0 735.0,447.5 736.2,456.2 737.6,456.5 738.9,454.2 740.0,450.5 741.5,450.8 742.8,450.3 744.1,444.5 745.0,450.0 746.7,453.8 748.0,448.0 749.3,460.7 750.6,457.1 751.2,457.5 751.9,455.8 753.2,463.0 753.8,463.8 754.5,460.7 755.8,460.4 756.2,457.5 757.1,460.5 758.4,465.4 760.0,471.2 761.0,471.7 762.3,464.7 763.0,464.5 763.6,469.4 764.9,470.9 766.2,477.5 767.5,479.2 768.8,484.4 770.1,482.5 771.4,487.6 772.5,487.5 774.0,485.7 775.3,483.2 776.6,487.1 777.5,486.2 779.2,486.9 780.5,497.5 781.8,494.1 782.5,498.0 783.1,498.7 784.4,493.5 785.7,496.6 787.0,488.5 788.3,497.9 788.8,492.5 789.6,495.6 790.9,493.4 792.2,498.6 793.5,502.5 795.0,503.8 796.1,502.8 797.4,508.6 798.7,502.1 800.0,513.3 801.3,504.0 802.5,510.0 803.9,516.8 805.0,514.5 806.5,513.0 807.8,517.9 809.1,512.7 810.4,514.2 811.7,515.5 812.5,515.0 813.0,515.3 814.3,516.6 815.6,518.5 816.9,525.8 817.5,521.2 818.2,516.9 819.5,524.5 820.8,516.5 822.1,525.0 823.8,521.2 824.7,524.3 826.0,527.4 827.3,525.3 828.6,526.8 830.0,532.5 831.2,534.0 832.5,535.6 833.8,531.9 835.1,537.1 836.4,537.4 837.5,537.5 839.0,542.5 840.3,540.1 841.6,546.1 842.5,545.0 844.2,544.6 845.5,539.7 846.8,548.5 848.1,543.5 849.4,542.6 850.0,543.8 850.7,546.1 852.0,547.0 853.3,554.7 854.5,555.0 855.9,551.8 857.2,546.5 858.8,545.0 859.8,545.8 861.1,546.3 861.8,551.2 862.4,551.0 863.7,542.9 865.0,542.5 866.3,541.3 867.6,537.9 868.2,535.0 868.9,535.8 870.0,546.2 871.5,548.8 872.8,548.7 874.1,543.0 875.0,545.0 876.7,549.4 878.0,555.7 878.8,556.2 879.3,552.7 880.6,547.0 881.9,546.9 882.5,542.5 883.2,547.2 884.5,537.6 885.8,540.7 887.1,549.6 888.4,541.4 890.0,545.0 891.0,543.3 892.3,539.1 893.0,540.0 893.6,545.2 894.9,541.9 896.2,545.0 897.5,557.6 898.2,565.0 898.8,564.9 900.1,568.0 901.2,565.0 902.5,542.5 904.2,539.5 905.5,572.5 906.6,573.8 907.9,574.9 909.2,577.4 910.0,577.5 910.5,580.4 911.8,580.3 913.1,576.7 914.4,587.4 915.7,582.2 916.2,585.0 917.0,580.9 918.3,561.4 918.8,560.0 919.6,558.7 920.0,558.8 921.2,587.5 922.2,587.8 923.5,586.5 924.8,590.2 926.2,590.0 927.4,589.0 928.7,582.8 930.0,586.0 931.2,583.8 932.6,583.5 933.9,580.9 935.2,579.1 936.5,586.7 937.8,577.4 938.8,580.0 940.4,587.5 941.7,583.3 942.5,585.0 943.0,588.3 944.3,596.7 945.6,605.2 946.2,610.0 946.9,604.5 948.2,604.4 949.5,597.5 950.8,604.9 952.1,611.0 953.8,620.0 954.7,618.3 956.2,613.8 957.3,616.7 958.6,618.5 960.0,623.8 961.2,623.1 962.5,623.5 963.8,618.4 965.0,617.5 966.4,613.4 967.7,621.9 968.8,620.0 970.3,617.8 971.6,627.7 972.9,627.8 973.8,631.2 974.2,636.0 975.5,625.6 976.2,626.2 976.8,626.4 978.1,632.7 979.4,634.4 980.7,640.5 981.2,640.0 982.0,643.4 983.3,647.2 984.6,651.2 985.5,655.5 987.2,654.0 988.5,653.3 989.8,645.4 991.2,649.5 992.4,652.8 993.7,657.8 995.0,662.0 996.3,663.7 997.6,666.0 998.9,665.7 1000.2,667.5 1001.2,668.8 1002.8,674.0 1004.5,681.2" fill="none" stroke="#E36C0A" stroke-width="2.9" stroke-linejoin="round" stroke-linecap="round"/>
</svg>
</body></html>
